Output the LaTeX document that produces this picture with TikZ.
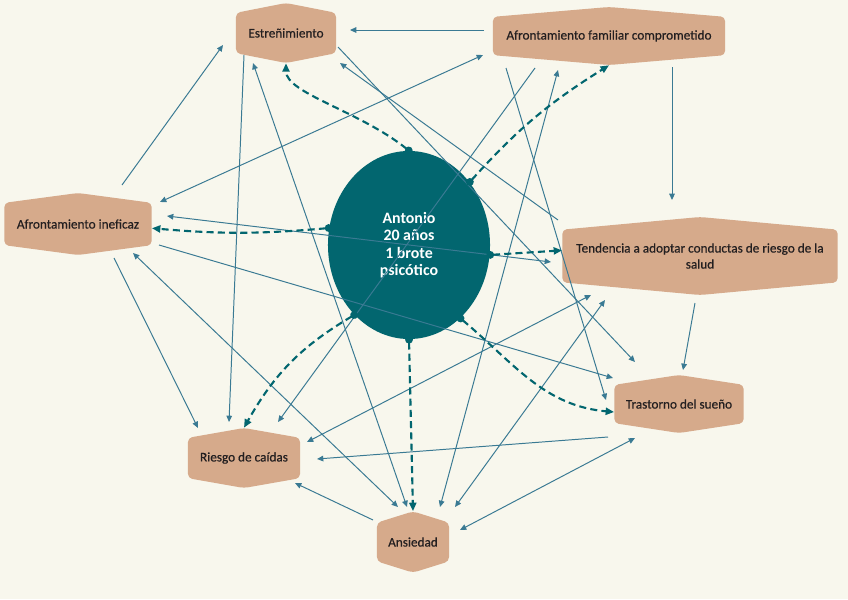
\documentclass[tikz,border=0pt]{standalone}
\usepackage{fontspec}
\setmainfont{Carlito}
\newfontfamily\boxfont{Carlito}[FakeBold=0.5]
\usepackage{tikz}
\usetikzlibrary{arrows.meta,positioning,calc,shapes.geometric}

\definecolor{bgcream}{HTML}{F8F7ED}
\definecolor{boxtan}{HTML}{D6AA8B}
\definecolor{tealdark}{HTML}{02666F}
\definecolor{linkblue}{HTML}{3A7A93}
\definecolor{boxtext}{HTML}{231F20}

\begin{document}
\begin{tikzpicture}[x=0.025cm, y=-0.025cm,
  every node/.style={font=\boxfont\fontsize{9.4}{11.4}\selectfont},
  hexbox/.style={inner sep=0pt, align=center, text=boxtext,
    path picture={
      \fill[boxtan, rounded corners=3pt]
        ([yshift=-#1]path picture bounding box.north west) -- (path picture bounding box.north)
        -- ([yshift=-#1]path picture bounding box.north east) -- ([yshift=#1]path picture bounding box.south east)
        -- (path picture bounding box.south) -- ([yshift=#1]path picture bounding box.south west) -- cycle;}},
  hexbox/.default=7pt,
  link/.style={linkblue, line width=0.7pt, >={Triangle[length=4.5pt,width=4pt]}},
  cue/.style={tealdark, line width=1.5pt, dash pattern=on 5pt off 3pt, shorten <=-2.5pt,
    {Circle[length=5.5pt,width=5.5pt]}-{Triangle[length=6pt,width=5pt]}}]
\fill[bgcream] (0,0) rectangle (848,599);
\useasboundingbox (0,0) rectangle (848,599);

\node[hexbox, minimum width=2.5cm, minimum height=1.5cm] (est) at (286,33) {Estreñimiento};
\node[hexbox, minimum width=5.8cm, minimum height=1.45cm] (afc) at (609,36) {Afrontamiento familiar comprometido};
\node[hexbox, minimum width=3.68cm, minimum height=1.55cm] (ain) at (78,224) {Afrontamiento ineficaz};
\node[hexbox=9pt, minimum width=6.88cm, minimum height=1.95cm] (ten) at (700,256) {Tendencia a adoptar conductas de riesgo de la\\salud};
\node[hexbox, minimum width=3.23cm, minimum height=1.45cm] (tsu) at (679,404) {Trastorno del sueño};
\node[hexbox, minimum width=2.8cm, minimum height=1.5cm] (rca) at (244,458) {Riesgo de caídas};
\node[hexbox=8pt, minimum width=1.8cm, minimum height=1.53cm] (ans) at (413,542) {Ansiedad};
\node[ellipse, fill=tealdark, minimum width=4.05cm, minimum height=4.7cm, inner sep=0pt, text=white, align=center,
  font=\bfseries\fontsize{11.3}{12.4}\selectfont] (ant) at (409,245) {Antonio\\20 años\\1 brote\\psicótico};

\draw[link,->] ($(afc)+(-125,-6)$) -- ($(est)+(64,-3)$);
\draw[link,->] ($(ain)+(44,-39)$) -- ($(est)+(-63,12)$);
\draw[link,<->] ($(afc)+(-126,19)$) -- ($(ain)+(82,-22)$);
\draw[link,<->] ($(ain)+(89,-8)$) -- ($(ten)+(-149,6)$);
\draw[link,->] ($(ain)+(81,21)$) -- ($(tsu)+(-66,-26)$);
\draw[link,->] ($(ain)+(36,34)$) -- ($(rca)+(-46,-30)$);
\draw[link,<->] ($(ain)+(55,29)$) -- ($(ans)+(-15,-35)$);
\draw[link,->] ($(est)+(-42,22)$) -- ($(rca)+(-15,-36)$);
\draw[link,<->] ($(est)+(-33,30)$) -- ($(ans)+(-6,-35)$);
\draw[link,->] ($(est)+(52,14)$) -- ($(tsu)+(-44,-42)$);
\draw[link,->] ($(ten)+(-142,-36)$) -- ($(est)+(54,30)$);
\draw[link,->] ($(afc)+(-74,32)$) -- ($(rca)+(34,-36)$);
\draw[link,->] ($(afc)+(-103,32)$) -- ($(tsu)+(-73,-4)$);
\draw[link,<->] ($(ans)+(27,-35)$) -- ($(afc)+(-51,34)$);
\draw[link,<->] ($(ans)+(42,-35)$) -- ($(ten)+(-95,44)$);
\draw[link,<->] ($(rca)+(63,-16)$) -- ($(ten)+(-109,39)$);
\draw[link,->] ($(tsu)+(-71,33)$) -- ($(rca)+(73,1)$);
\draw[link,<->] ($(ans)+(47,-12)$) -- ($(tsu)+(-44,34)$);
\draw[link,->] ($(ten)+(-5,47)$) -- ($(tsu)+(4,-34)$);
\draw[link,->] ($(ans)+(-40,-22)$) -- ($(rca)+(51,25)$);
\draw[link,->] ($(afc)+(63,31)$) -- ($(ten)+(-28,-56)$);

\draw[cue] (ant.north) .. controls +(-50,-40) and +(0,30) .. (est.south);
\draw[cue] (ant.46) to[bend left=8] (afc.south);
\draw[cue] (ant.168) to[bend left=5] ([yshift=-3pt]ain.east);
\draw[cue] (ant.-7) -- ([yshift=4pt]ten.west);
\draw[cue] (ant.-55) to[out=-40,in=175] ([yshift=-5.7pt]tsu.west);
\draw[cue] (ant.south) -- (ans.north);
\draw[cue] (ant.232) to[bend right=15] (rca.north);
\end{tikzpicture}
\end{document}
